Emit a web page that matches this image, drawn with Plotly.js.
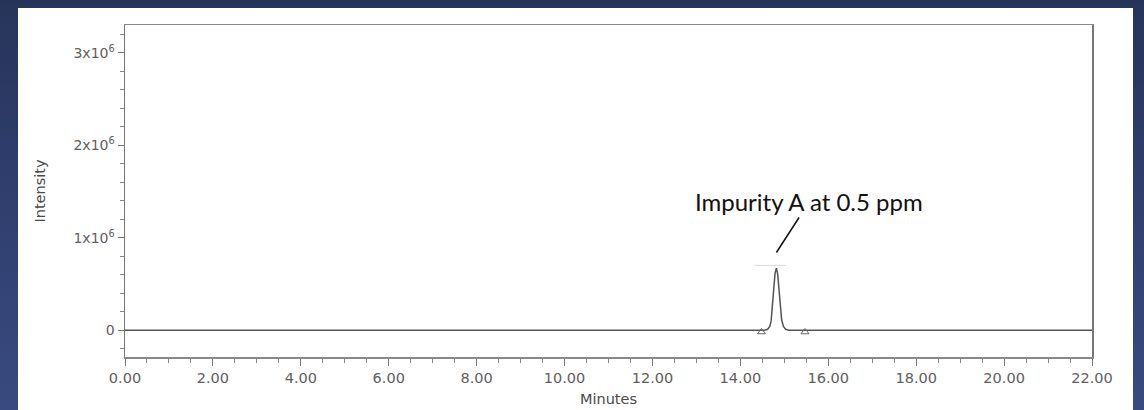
<!DOCTYPE html>
<html>
<head>
<meta charset="utf-8">
<script src="https://cdn.plot.ly/plotly-3.0.1.min.js"></script>
<style>
  html, body { margin: 0; padding: 0; width: 1144px; height: 410px; overflow: hidden; }
  body { background: linear-gradient(180deg, #27345a 0%, #2f3e6c 45%, #394a80 100%); position: relative; }
  #panel { position: absolute; left: 18px; top: 8px; width: 1115px; height: 402px; background: #ffffff; }
</style>
</head>
<body>
<div id="panel"></div>
<script>
// Chromatogram trace: retention time (min) and detector intensity
const retentionTime = [0.00, 14.40, 14.55, 14.62, 14.67, 14.70, 14.73, 14.76, 14.79, 14.82, 14.85, 14.88, 14.91, 14.94, 14.98, 15.03, 15.10, 15.50, 22.00];
const intensity     = [0, 0, 0, 0.01e6, 0.04e6, 0.10e6, 0.24e6, 0.45e6, 0.62e6, 0.67e6, 0.60e6, 0.42e6, 0.24e6, 0.11e6, 0.04e6, 0.01e6, 0, 0, 0];

// Integration start / end markers of the impurity peak
const peakBoundsTime = [14.48, 15.47];
const peakBoundsIntensity = [-0.02e6, -0.02e6];

// Peak label
const peakLabel = 'Impurity A at 0.5 ppm';

// Axis ticks
const xTickVals = [0, 2, 4, 6, 8, 10, 12, 14, 16, 18, 20, 22];
const yTickVals = [0, 1e6, 2e6, 3e6];
const yTickText = ['0', '1x10<sup>6</sup>', '2x10<sup>6</sup>', '3x10<sup>6</sup>'];

// Apex of the peak, used to place the label leader
let apexIdx = 0;
intensity.forEach((v, i) => { if (v > intensity[apexIdx]) apexIdx = i; });
const apexTime = retentionTime[apexIdx];
const apexValue = intensity[apexIdx];

const axisFamily = 'DejaVu Sans, Verdana, sans-serif';
const xTickFont = { family: axisFamily, size: 14.5, color: '#5e5e5e' };
const yTickFont = { family: axisFamily, size: 14, color: '#5e5e5e' };
const titleFont = { family: axisFamily, size: 14.5, color: '#4a4a4a' };

const traces = [
  {
    x: retentionTime, y: intensity, type: 'scatter', mode: 'lines',
    line: { color: '#555555', width: 1.5 }, hoverinfo: 'skip'
  },
  {
    x: peakBoundsTime, y: peakBoundsIntensity, type: 'scatter', mode: 'markers',
    marker: { symbol: 'triangle-up-open', size: 7, color: '#666666', line: { width: 1 } },
    hoverinfo: 'skip'
  }
];

const layout = {
  width: 1115, height: 402,
  margin: { l: 107, r: 41, t: 17, b: 53 },
  paper_bgcolor: '#ffffff', plot_bgcolor: '#ffffff',
  showlegend: false,
  xaxis: {
    range: [0, 22], tickvals: xTickVals, tickformat: '.2f',
    ticks: 'outside', ticklen: 7, tickcolor: '#777', tickwidth: 1,
    minor: { dtick: 0.5, ticks: 'outside', ticklen: 4, tickcolor: '#888' },
    showgrid: false, zeroline: false,
    showline: true, linecolor: '#888', linewidth: 1.5, mirror: true,
    tickfont: xTickFont,
    title: { text: 'Minutes', font: titleFont, standoff: 9 }
  },
  yaxis: {
    range: [-0.29e6, 3.3e6], tickvals: yTickVals, ticktext: yTickText,
    ticks: 'outside', ticklen: 6, tickcolor: '#777', tickwidth: 1,
    minor: { dtick: 0.2e6, ticks: 'outside', ticklen: 4, tickcolor: '#888' },
    showgrid: false, zeroline: false,
    showline: true, linecolor: '#777', linewidth: 1.5, mirror: true,
    tickfont: yTickFont,
    title: { text: 'Intensity', font: titleFont, standoff: 24 }
  },
  shapes: [
    {
      type: 'line', xref: 'x', yref: 'y',
      x0: apexTime - 0.5, x1: apexTime + 0.22, y0: apexValue + 0.03e6, y1: apexValue + 0.03e6,
      line: { color: '#dddddd', width: 1 }
    }
  ],
  annotations: [
    {
      x: apexTime, y: apexValue + 0.17e6, xref: 'x', yref: 'y',
      text: peakLabel, showarrow: true, arrowhead: 0, arrowwidth: 1.5, arrowcolor: '#111',
      ax: 33, ay: -51,
      font: { family: 'Lato, Open Sans, sans-serif', size: 24, color: '#111' }
    }
  ]
};

Plotly.newPlot('panel', traces, layout, { displayModeBar: false, staticPlot: true });
</script>
</body>
</html>
